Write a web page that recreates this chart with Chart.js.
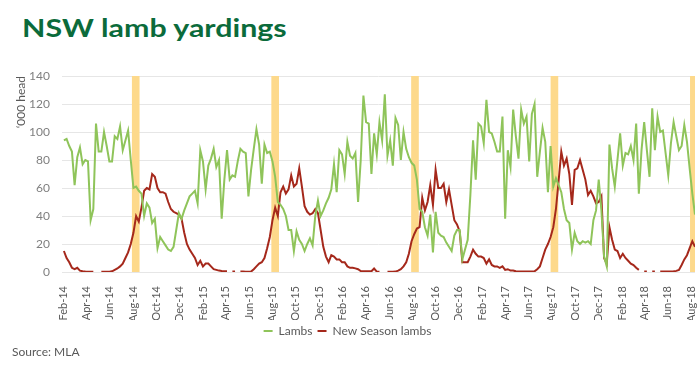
<!DOCTYPE html>
<html><head><meta charset="utf-8">
<script src="https://cdn.jsdelivr.net/npm/chart.js@4.4.1/dist/chart.umd.min.js"></script>
<style>
html,body{margin:0;padding:0;background:#fff;width:700px;height:369px;overflow:hidden;}
#title{position:absolute;left:22px;top:13px;font:bold 24px Lato,sans-serif;color:#0b6b3b;white-space:nowrap;transform:scaleX(1.265);transform-origin:0 0;}
#source{position:absolute;left:12px;top:344px;font:12px Lato,sans-serif;color:#595959;white-space:nowrap;}
#wrap{position:absolute;left:0;top:60px;width:700px;height:287px;}
</style></head><body>
<div id="title">NSW lamb yardings</div>
<div id="wrap"><canvas id="c"></canvas></div>
<div id="source">Source: MLA</div>
<script>
// weekly yardings, '000 head, first week starting 2014-02-01
const firstWeek = '2014-02-01';
const lambs = [
94,95,90,86,62,82,89,77,80,79,
37,45,106,86,86,100,90,79,79,97,
95,104,87,94,101,80,60,61,58,56,
40,49,46,35,38,17,25,22,19,16,
15,18,30,42,38,44,49,54,56,58,
49,87,79,59,76,81,88,75,80,38,
66,87,66,69,68,79,88,86,85,54,
73,88,102,91,63,91,85,86,79,68,
50,48,45,40,30,30,15,29,23,20,
15,20,24,19,40,51,40,44,49,53,
59,77,57,87,84,70,93,83,81,85,
50,80,126,107,106,70,99,84,107,94,
127,83,94,76,110,105,80,100,88,82,
78,76,66,45,43,32,26,41,14,43,
28,26,25,21,18,15,26,30,30,9,
16,23,55,94,66,106,104,92,123,100,
99,93,86,86,111,38,87,75,116,97,
81,116,106,111,79,113,120,68,86,103,
93,57,90,61,67,62,57,45,37,35,
16,28,22,20,22,21,22,20,37,44,
66,44,11,4,91,74,61,80,99,76,
85,84,90,80,106,56,87,107,87,68,
117,87,111,100,101,85,69,92,107,97,
87,90,105,93,74,56,41
];
const newSeasonLambs = [
15,10,7,3,2,3,1,0.5,0.3,0.2,
0.2,0.2,null,null,0.1,0.1,0.1,0.2,0.5,1.5,
2.5,4,6,10,14,20,28,40,36,46,
58,60,59,70,68,60,57,57,56,50,
45,43,42,41,38,28,20,16,13,10,
5,8,4,6,6,4,2,1.5,1,0.7,
0.5,0.5,null,0.3,0.3,null,0.3,0.3,0.2,0.2,
0.3,2,4,6,7,10,17,25,37,46,
40,57,61,56,59,69,61,63,74,61,
47,43,41,42,45,42,30,18,11,7,
12,11,9,9,7,7,4,3,3,2.6,
2,0.7,0.5,0.5,0.5,0.5,2.5,0.3,0.2,null,
null,0.2,0.2,0.2,0.3,1,2,4,7,13,
22,27,31,32,53,44,50,62,48,73,
60,60,63,50,59,48,37,34,29,7,
7,7,11,16,13,11,11,10,6,9,
5,4,4,3,4,1.5,2,1,1,0.5,
0.3,0.3,0.3,0.3,0.3,0.3,0.5,2,4,10,
16,20,25,32,45,65,86,76,81,70,
48,73,74,80,73,66,55,58,54,49,
50,54,10,6,32,23,16,15,10,13,
10,8,6,5,3,1.5,null,0.3,0.3,null,
0.3,0.3,null,0.3,0.3,0.3,0.3,0.3,0.5,0.8,
1.5,5,9,12,17,22,18
];
const tickLabels = ['Feb-14','Apr-14','Jun-14','Aug-14','Oct-14','Dec-14',
'Feb-15','Apr-15','Jun-15','Aug-15','Oct-15','Dec-15',
'Feb-16','Apr-16','Jun-16','Aug-16','Oct-16','Dec-16',
'Feb-17','Apr-17','Jun-17','Aug-17','Oct-17','Dec-17',
'Feb-18','Apr-18','Jun-18','Aug-18'];
const bandStarts = ['2014-07-29','2015-07-29','2016-07-29','2017-07-29','2018-07-29'];
const bandEnds   = ['2014-08-18','2015-08-18','2016-08-18','2017-08-18','2018-08-18'];

const DAY = 86400000;
const origin = Date.parse(firstWeek + 'T00:00:00Z');
const dayOf = s => (Date.parse(s + 'T00:00:00Z') - origin) / DAY;
const MONTHS = ['Jan','Feb','Mar','Apr','May','Jun','Jul','Aug','Sep','Oct','Nov','Dec'];
const tickDays = tickLabels.map(l => {
  const [m, y] = l.split('-');
  const mm = String(MONTHS.indexOf(m) + 1).padStart(2, '0');
  return dayOf('20' + y + '-' + mm + '-01');
});
const toPoints = arr => arr.map((v, i) => ({x: i * 7, y: v}));

const bandPlugin = {
  id: 'bands',
  beforeDatasetsDraw(chart) {
    const {ctx, chartArea, scales: {x, y}} = chart;
    ctx.save();
    ctx.beginPath();
    ctx.rect(chartArea.left, chartArea.top, chartArea.right - chartArea.left, chartArea.bottom - chartArea.top);
    ctx.clip();
    ctx.fillStyle = '#fdd98b';
    bandStarts.forEach((s, i) => {
      const x0 = x.getPixelForValue(dayOf(s));
      const x1 = x.getPixelForValue(dayOf(bandEnds[i]));
      const yTop = y.getPixelForValue(140), yBot = y.getPixelForValue(0);
      ctx.fillRect(x0, yTop, x1 - x0, yBot - yTop);
    });
    ctx.restore();
  }
};

const grey = '#595959';
new Chart(document.getElementById('c'), {
  type: 'line',
  data: {
    datasets: [
      {label: 'Lambs', data: toPoints(lambs), borderColor: '#8fc45a', backgroundColor: '#8fc45a',
       borderWidth: 2, pointRadius: 0, tension: 0, spanGaps: false},
      {label: 'New Season lambs', data: toPoints(newSeasonLambs), borderColor: '#a5281b', backgroundColor: '#a5281b',
       borderWidth: 2, pointRadius: 0, tension: 0, spanGaps: false}
    ]
  },
  options: {
    responsive: true, maintainAspectRatio: false, animation: false,
    layout: {padding: {top: 16, right: 5, left: 0, bottom: 0}},
    plugins: {
      legend: {position: 'bottom',
        labels: {usePointStyle: true, pointStyle: 'line', pointStyleWidth: 9, boxHeight: 8,
                 font: {family: 'Lato', size: 12}, color: grey, padding: 5}},
      tooltip: {enabled: false}
    },
    scales: {
      x: {type: 'linear', min: -5, max: 1652,
        afterBuildTicks: s => { s.ticks = tickDays.map(v => ({value: v})); },
        afterFit: s => { s.height = 48; s.paddingLeft = 0; s.paddingRight = 0; },
        ticks: {autoSkip: false, maxRotation: 90, minRotation: 90, padding: 6,
          font: {family: 'Lato', size: 11}, color: grey,
          callback: (v, i) => tickLabels[i]},
        grid: {display: false}, border: {display: false}},
      y: {min: 0, max: 140,
        afterFit: s => { s.width = 62; s.paddingTop = 0; s.paddingBottom = 0; },
        ticks: {stepSize: 20, padding: 12, font: {family: 'Lato', size: 12}, color: '#7f7f7f'},
        grid: {color: '#e6e6e6', drawTicks: false},
        border: {display: false},
        title: {display: true, text: '‘000 head', align: 'end', font: {family: 'Lato', size: 12}, color: grey, padding: {top: 14, bottom: 0}}}
    }
  },
  plugins: [bandPlugin]
});
</script>
</body></html>
